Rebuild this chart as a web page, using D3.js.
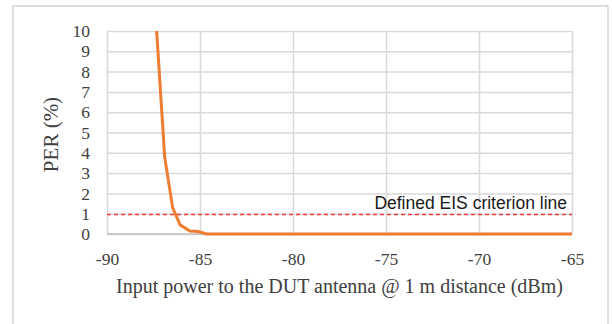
<!DOCTYPE html>
<html>
<head>
<meta charset="utf-8">
<script src="https://cdn.jsdelivr.net/npm/d3@7"></script>
<style>
  body { margin: 0; background: #fff; }
  svg { display: block; }
</style>
</head>
<body>
<svg id="chart" width="612" height="324"></svg>
<script>
// measured curve: input power (dBm) vs PER (%)
const powerDbm = [-87.33, -86.9, -86.47, -86.07, -85.55, -85.1, -84.65, -80, -75, -70, -65];
const perPct   = [10, 3.8, 1.3, 0.45, 0.15, 0.12, 0, 0, 0, 0, 0];
const xTicks = [-90, -85, -80, -75, -70, -65];
const yTicks = [0, 1, 2, 3, 4, 5, 6, 7, 8, 9, 10];
const criterion = 1;
const criterionLabel = "Defined EIS criterion line";

const serif = "'Liberation Serif', 'Times New Roman', serif";
const sans = "'Liberation Sans', Arial, sans-serif";

const svg = d3.select("#chart");
const margin = { top: 31, right: 40, bottom: 90, left: 107 };
const width = 612 - margin.left - margin.right;
const height = 324 - margin.top - margin.bottom;

// outer frame
svg.append("rect")
    .attr("x", 13).attr("y", 6)
    .attr("width", 595).attr("height", 330)
    .attr("fill", "none")
    .attr("stroke", "#d4d4d4")
    .attr("stroke-width", 1.5);

const x = d3.scaleLinear().domain([-90, -65]).range([0, width]);
const y = d3.scaleLinear().domain([0, 10]).range([height, 0]);

const g = svg.append("g")
    .attr("transform", `translate(${margin.left},${margin.top})`);

// 网格线
g.append("g")
    .call(d3.axisLeft(y).tickValues(yTicks).tickSize(-width).tickFormat(""))
    .call(s => s.select(".domain").remove())
    .selectAll("line").attr("stroke", "#d9d9d9").attr("stroke-width", 1.5);

g.append("g")
    .attr("transform", `translate(0,${height})`)
    .call(d3.axisBottom(x).tickValues(xTicks).tickSize(-height).tickFormat(""))
    .call(s => s.select(".domain").remove())
    .selectAll("line").attr("stroke", "#d9d9d9").attr("stroke-width", 1.5);

// x axis baseline
g.append("line")
    .attr("x1", 0).attr("x2", width)
    .attr("y1", y(0)).attr("y2", y(0))
    .attr("stroke", "#bfbfbf").attr("stroke-width", 1.5);

// tick labels (hyphen minus like the original)
const fmt = d => String(d).replace("\u2212", "-");

const yAxis = g.append("g")
    .call(d3.axisLeft(y).tickValues(yTicks).tickSize(0).tickPadding(17).tickFormat(fmt));
yAxis.select(".domain").remove();
yAxis.attr("font-family", null).attr("font-size", null);
yAxis.selectAll("text")
    .style("font-family", serif)
    .style("font-size", "17.5px")
    .attr("fill", "#404040");

const xAxis = g.append("g")
    .attr("transform", `translate(0,${height})`)
    .call(d3.axisBottom(x).tickValues(xTicks).tickSize(0).tickPadding(19).tickFormat(fmt));
xAxis.select(".domain").remove();
xAxis.attr("font-family", null).attr("font-size", null);
xAxis.selectAll("text")
    .style("font-family", serif)
    .style("font-size", "17.5px")
    .attr("fill", "#404040");

// criterion line
g.append("line")
    .attr("x1", 0).attr("x2", width)
    .attr("y1", Math.round(y(criterion)) + 0.5).attr("y2", Math.round(y(criterion)) + 0.5)
    .attr("stroke", "#f03c3c")
    .attr("stroke-width", 1.3)
    .attr("stroke-dasharray", "4,3");

g.append("text")
    .attr("x", width - 5)
    .attr("y", y(criterion) - 5)
    .attr("text-anchor", "end")
    .style("font-family", sans)
    .style("font-size", "17.5px")
    .attr("fill", "#1a1a1a")
    .text(criterionLabel);

// 绘制线条
const line = d3.line()
    .x((d, i) => x(powerDbm[i]))
    .y(d => y(d));

g.append("path")
    .datum(perPct)
    .attr("fill", "none")
    .attr("stroke", "#ed7d31")
    .attr("stroke-width", 3)
    .attr("stroke-linejoin", "round")
    .attr("d", line);

// axis titles
svg.append("text")
    .attr("x", margin.left + width / 2)
    .attr("y", 293)
    .attr("text-anchor", "middle")
    .style("font-family", serif)
    .style("font-size", "20px")
    .attr("fill", "#404040")
    .text("Input power to the DUT antenna @ 1 m distance (dBm)");

svg.append("text")
    .attr("transform", `translate(58,${margin.top + height / 2 + 2}) rotate(-90)`)
    .attr("text-anchor", "middle")
    .style("font-family", serif)
    .style("font-size", "21px")
    .attr("fill", "#404040")
    .text("PER (%)");
</script>
</body>
</html>
